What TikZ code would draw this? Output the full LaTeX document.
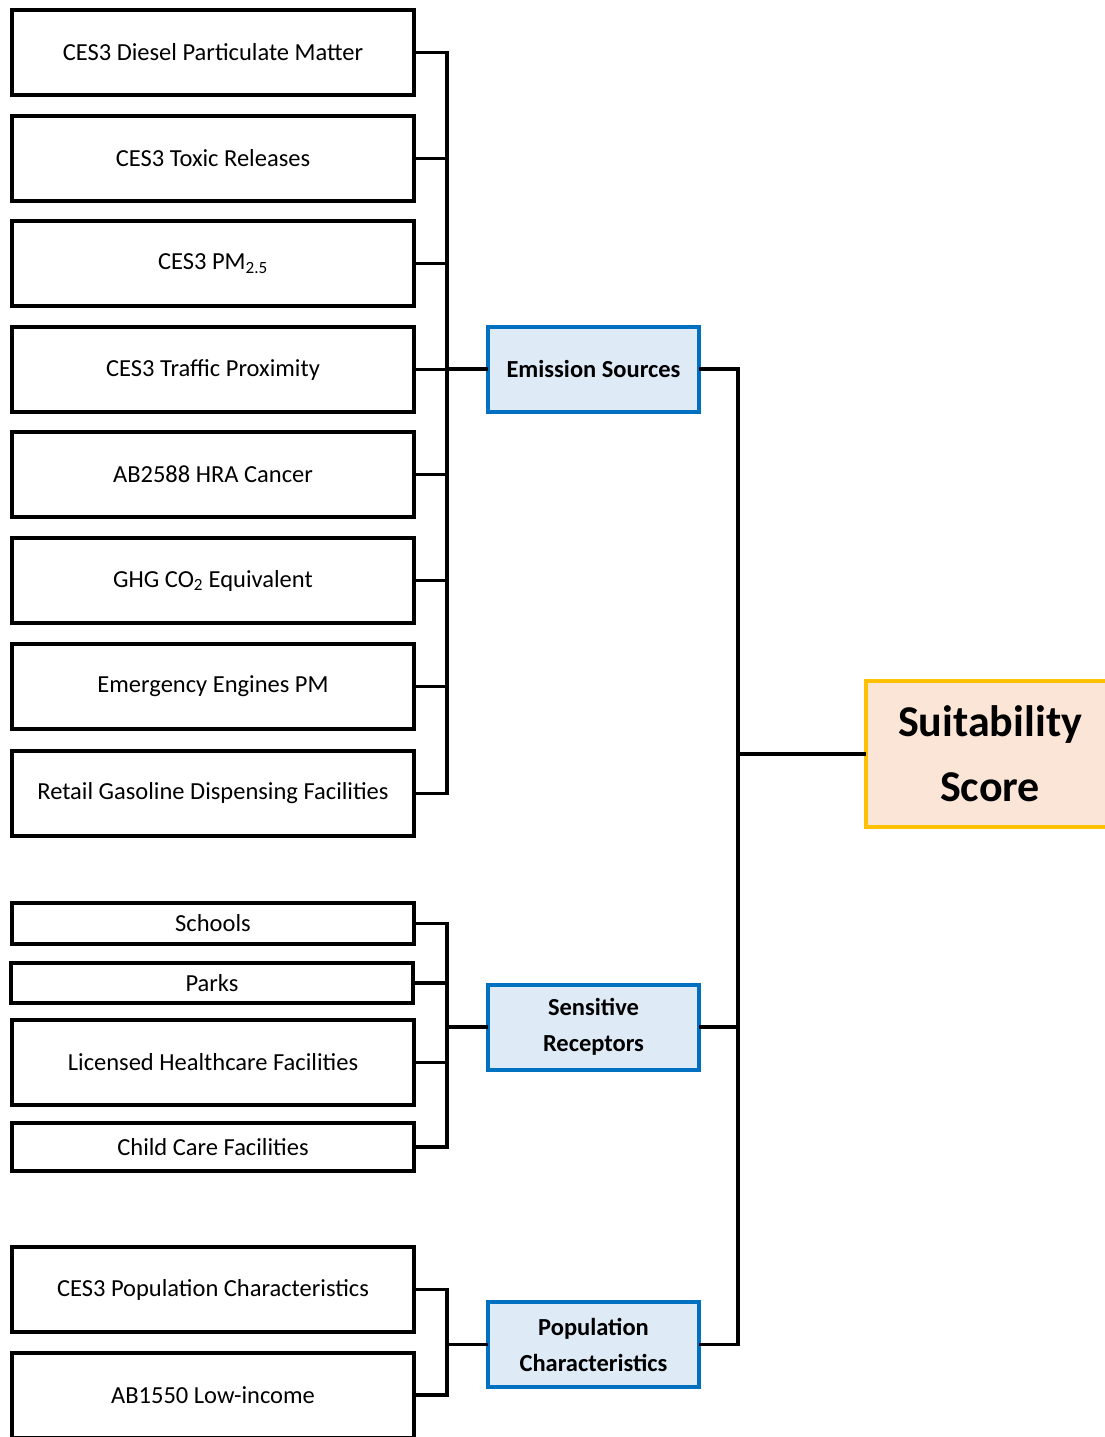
\documentclass[tikz,border=0pt]{standalone}
\usepackage{fontspec}
\setmainfont{Carlito}
\usetikzlibrary{positioning,calc}
\definecolor{groupedge}{HTML}{0070C0}
\definecolor{groupfill}{HTML}{DEEBF7}
\definecolor{scoreedge}{HTML}{FFC000}
\definecolor{scorefill}{HTML}{FBE5D6}
\tikzset{
	tree/.style={x=1pt,y=-1pt,line join=miter},
	factor/.style={rectangle,draw,line width=4pt,minimum width=402pt,
		minimum height=85pt,inner sep=0pt,outer sep=0pt,
		font=\fontsize{24.5}{28}\selectfont},
	group/.style={rectangle,draw=groupedge,fill=groupfill,line width=4pt,
		minimum width=211pt,minimum height=85pt,inner sep=0pt,outer sep=0pt,
		align=center,font=\fontsize{24.5}{36}\selectfont\bfseries},
	scorebox/.style={rectangle,draw=scoreedge,fill=scorefill,line width=4pt,
		minimum width=248pt,minimum height=146pt,inner sep=0pt,outer sep=0pt,
		align=center,font=\fontsize{44}{65}\selectfont\bfseries},
	link/.style={line width=3.8pt},
	bus/.style={line width=3.8pt,line cap=rect}
}

\begin{document}
\begin{tikzpicture}[tree]
	\useasboundingbox (0,0) rectangle (1105,1437);
	\clip (0,0) rectangle (1105,1437);
	
	% emission inputs
	\node[factor] (diesel) at (213,52.5) {CES3 Diesel Particulate Matter};
	\node[factor] (toxic) at (213,158.5) {CES3 Toxic Releases};
	\node[factor] (pm) at (213,263.5) {CES3 PM\textsubscript{2.5}};
	\node[factor] (traffic) at (213,369.5) {CES3 Traffic Proximity};
	\node[factor] (hra) at (213,474.5) {AB2588 HRA Cancer};
	\node[factor] (ghg) at (213,580.5) {GHG CO\textsubscript{2} Equivalent};
	\node[factor] (engines) at (213,686.5) {Emergency Engines PM};
	\node[factor] (gasoline) at (213,793.5) {Retail Gasoline Dispensing Facilities};
	
	% receptor inputs
	\node[factor,minimum height=41pt] (schools) at (213,923.5) {Schools};
	\node[factor,minimum height=40pt] (parks) at (212,983) {Parks};
	\node[factor] (health) at (213,1062.5) {Licensed Healthcare Facilities};
	\node[factor,minimum height=48pt] (childcare) at (213,1147) {Child Care Facilities};
	
	% population inputs
	\node[factor] (popchar) at (213,1289.5) {CES3 Population Characteristics};
	\node[factor] (lowincome) at (213,1395) {AB1550 Low-income};
	
	% groups and score
	\node[group] (emission) at (593.5,369) {Emission Sources};
	\node[group] (receptors) at (593.5,1027) {Sensitive\\Receptors};
	\node[group] (population) at (593.5,1344.5) {Population\\Characteristics};
	\node[scorebox] (score) at (990,754) {Suitability\\Score};
	
	\coordinate (busA) at (447,0);
	\coordinate (busB) at (738,0);
	
	% inputs to groups
	\foreach \f in {diesel,toxic,pm,traffic,hra,ghg,engines,gasoline,
		schools,parks,health,childcare,popchar,lowincome}
		\draw[link] (\f.east) -- (\f.east -| busA);
	\draw[bus] (busA |- diesel.east) -- (busA |- gasoline.east);
	\draw[bus] (busA |- schools.east) -- (busA |- childcare.east);
	\draw[bus] (busA |- popchar.east) -- (busA |- lowincome.east);
	\foreach \g in {emission,receptors,population}
		\draw[link] (busA |- \g.west) -- (\g.west);
	
	% groups to score
	\foreach \g in {emission,receptors,population}
		\draw[link] (\g.east) -- (\g.east -| busB);
	\draw[bus] (busB |- emission.east) -- (busB |- population.east);
	\draw[link] (busB |- score.west) -- (score.west);
\end{tikzpicture}
\end{document}
